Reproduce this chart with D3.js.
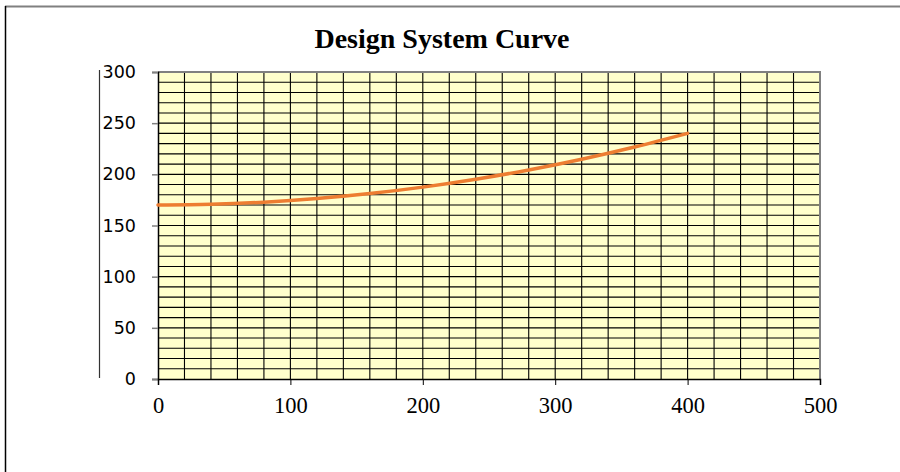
<!DOCTYPE html>
<html>
<head>
<meta charset="utf-8">
<script src="https://cdn.jsdelivr.net/npm/d3@7"></script>
<style>
  html, body { margin: 0; padding: 0; background: #fff; }
  svg { display: block; }
</style>
</head>
<body>
<svg id="chart" width="900" height="472"></svg>
<script>
// Flow (x) and head (y) of the design system curve
const flow = [0, 40, 80, 120, 160, 200, 240, 280, 320, 360, 400];
const head = [170, 170.7, 172.8, 176.3, 181.2, 187.5, 195.2, 204.3, 214.8, 226.7, 240];

const xTicks = [0, 100, 200, 300, 400, 500];
const yTicks = [0, 50, 100, 150, 200, 250, 300];
const xGrid = d3.range(20, 500, 20);
const yGrid = d3.range(10, 300, 10);

const titleText = "Design System Curve";

const svg = d3.select("#chart");

const plot = { left: 158, right: 820, top: 72, bottom: 379 };

const x = d3.scaleLinear().domain([0, 500]).range([plot.left, plot.right]);
const y = d3.scaleLinear().domain([0, 300]).range([plot.bottom, plot.top]);

// chart frame
svg.append("line").attr("x1", 5).attr("x2", 900).attr("y1", 6.5).attr("y2", 6.5)
  .attr("stroke", "#808080").attr("stroke-width", 2);
svg.append("line").attr("x1", 5.5).attr("x2", 5.5).attr("y1", 6).attr("y2", 472)
  .attr("stroke", "#000").attr("stroke-width", 1.5);

// title
svg.append("text")
  .attr("x", 442).attr("y", 48)
  .attr("text-anchor", "middle")
  .attr("font-family", "'Liberation Serif', 'Times New Roman', serif")
  .attr("font-weight", "bold")
  .attr("font-size", 28)
  .attr("fill", "#000")
  .text(titleText);

// plot background
svg.append("rect")
  .attr("x", plot.left).attr("y", plot.top)
  .attr("width", plot.right - plot.left).attr("height", plot.bottom - plot.top)
  .attr("fill", "#FFFFCC");

// gridlines
svg.append("g").selectAll("line").data(xGrid).join("line")
  .attr("x1", d => x(d)).attr("x2", d => x(d))
  .attr("y1", plot.top).attr("y2", plot.bottom)
  .attr("stroke", "#000").attr("stroke-width", 1.1);
svg.append("g").selectAll("line").data(yGrid).join("line")
  .attr("x1", plot.left).attr("x2", plot.right)
  .attr("y1", d => y(d)).attr("y2", d => y(d))
  .attr("stroke", "#000").attr("stroke-width", 1.1);

// plot border (top and right)
svg.append("path")
  .attr("d", `M${plot.left},${plot.top}H${plot.right}V${plot.bottom}`)
  .attr("fill", "none").attr("stroke", "#808080").attr("stroke-width", 2);

// y axis
const yAxis = d3.axisLeft(y).tickValues(yTicks).tickSize(6).tickPadding(16);
const gy = svg.append("g").attr("transform", `translate(${plot.left},0)`).call(yAxis);
gy.select(".domain").attr("stroke", "#000").attr("stroke-width", 1.5);
gy.selectAll(".tick line").attr("stroke", "#808080").attr("stroke-width", 1.5);
gy.selectAll(".tick text")
  .attr("font-family", "'DejaVu Sans', Verdana, sans-serif")
  .attr("font-size", 17.5)
  .attr("fill", "#000");

// x axis
const xAxis = d3.axisBottom(x).tickValues(xTicks).tickSize(6).tickPadding(12);
const gx = svg.append("g").attr("transform", `translate(0,${plot.bottom})`).call(xAxis);
gx.select(".domain").attr("stroke", "#000").attr("stroke-width", 1.5);
gx.selectAll(".tick line").attr("stroke", "#000").attr("stroke-width", 1);
gx.selectAll(".tick text")
  .attr("font-family", "'Liberation Serif', 'Times New Roman', serif")
  .attr("font-size", 22.5)
  .attr("fill", "#000");

// detached vertical rule left of the y labels
svg.append("line")
  .attr("x1", 99.5).attr("x2", 99.5).attr("y1", y(300) - 2).attr("y2", y(0) - 1)
  .attr("stroke", "#333").attr("stroke-width", 1.2);

// the curve
const pts = flow.map((f, i) => [f, head[i]]);
svg.append("path")
  .datum(pts)
  .attr("fill", "none")
  .attr("stroke", "#ED7D31")
  .attr("stroke-width", 3.5)
  .attr("stroke-linecap", "round")
  .attr("d", d3.line().x(d => x(d[0])).y(d => y(d[1])).curve(d3.curveMonotoneX));
</script>
</body>
</html>
